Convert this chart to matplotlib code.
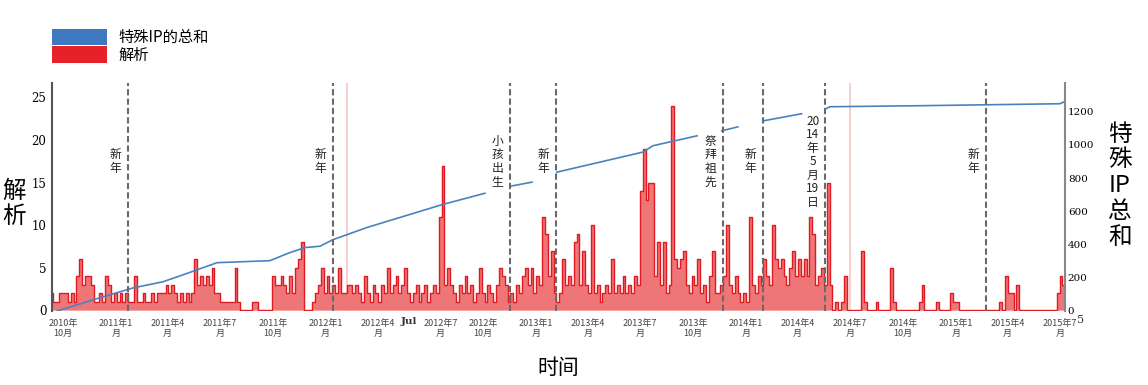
import numpy as np
import pandas as pd
import matplotlib
matplotlib.use('Agg')
import matplotlib.pyplot as plt
from matplotlib.patches import Patch
from matplotlib.transforms import ScaledTranslation

plt.rcParams['font.family'] = ['Noto Sans CJK SC', 'DejaVu Sans']

# 解析 (left axis): one value every 5 days from red_start
red_start = '2010-09-12'
red_vals = [2, 1, 1, 2, 2, 2, 1, 2, 1, 4,
            6, 3, 4, 4, 3, 1, 1, 2, 1, 4,
            3, 1, 2, 1, 2, 1, 2, 1, 1, 4,
            1, 1, 2, 1, 1, 2, 1, 2, 2, 2,
            3, 2, 3, 2, 1, 2, 1, 2, 1, 2,
            6, 3, 4, 3, 4, 3, 5, 2, 2, 1,
            1, 1, 1, 1, 5, 1, 0, 0, 0, 0,
            1, 1, 0, 0, 0, 0, 0, 4, 3, 3,
            4, 3, 2, 4, 2, 5, 6, 8, 0, 0,
            0, 1, 2, 3, 5, 2, 4, 2, 3, 2,
            5, 2, 2, 3, 3, 2, 3, 2, 1, 4,
            2, 1, 3, 2, 1, 3, 2, 5, 2, 3,
            4, 2, 3, 5, 2, 1, 2, 3, 1, 2,
            3, 1, 2, 3, 2, 11, 17, 3, 5, 3,
            2, 1, 3, 2, 4, 2, 3, 1, 2, 5,
            2, 1, 3, 2, 1, 3, 5, 4, 3, 1,
            2, 1, 3, 2, 4, 5, 3, 5, 2, 4,
            3, 11, 9, 4, 7, 2, 1, 2, 6, 3,
            4, 3, 8, 9, 3, 7, 3, 2, 10, 2,
            3, 1, 2, 3, 2, 6, 2, 3, 2, 4,
            2, 3, 2, 4, 3, 14, 19, 13, 15, 15,
            4, 8, 3, 8, 2, 3, 24, 6, 5, 6,
            7, 3, 2, 4, 3, 6, 2, 3, 1, 4,
            7, 2, 2, 3, 4, 10, 3, 2, 4, 2,
            1, 2, 1, 11, 3, 2, 4, 3, 6, 4,
            3, 10, 6, 5, 6, 4, 3, 5, 7, 4,
            6, 4, 6, 4, 11, 9, 3, 4, 5, 3,
            15, 3, 0, 1, 0, 1, 4, 0, 0, 0,
            0, 0, 7, 1, 0, 0, 0, 1, 0, 0,
            0, 0, 5, 1, 0, 0, 0, 0, 0, 0,
            0, 0, 1, 3, 0, 0, 0, 0, 1, 0,
            0, 0, 0, 2, 1, 1, 0, 0, 0, 0,
            0, 0, 0, 0, 0, 0, 0, 0, 0, 0,
            1, 0, 4, 2, 2, 0, 3, 0, 0, 0,
            0, 0, 0, 0, 0, 0, 0, 0, 0, 0,
            2, 4, 3]

# 特殊IP的总和 (right axis), nan = break in the line
blue_dates = ['2010-09-21', '2010-11-25', '2011-01-31', '2011-03-24', '2011-04-28',
              '2011-06-26', '2011-09-26', '2011-10-31', '2011-11-26', '2011-12-22',
              '2012-01-14', '2012-03-13', '2012-05-09', '2012-07-23', '2012-10-04',
              '2012-10-25', '2012-11-18', '2012-12-25', '2013-01-15', '2013-02-06',
              '2013-07-06', '2013-07-23', '2013-10-08', '2013-11-01', '2013-11-20',
              '2013-12-18', '2014-01-10', '2014-01-31', '2014-04-08', '2014-05-01',
              '2014-05-20', '2014-05-27', '2014-10-25', '2015-07-01', '2015-07-10']
blue_vals = [0, 70, 139, 176, 218,
             291, 303, 352, 382, 390,
             430, 503, 563, 642, 709,
             np.nan, 752, 776, np.nan, 836,
             957, 995, 1055, np.nan, 1085,
             1109, np.nan, 1145, 1188, np.nan,
             1218, 1230, 1236, 1248, 1262]

event_dates = ['2011-01-22', '2012-01-14', '2012-11-17', '2013-02-05',
               '2013-11-22', '2014-01-31', '2014-05-19', '2015-02-22']
event_labels = ['新\n年', '新\n年', '小\n孩\n出\n生', '新\n年',
                '祭\n拜\n祖\n先', '新\n年', '20\n14\n年\n5\n月\n19\n日', '新\n年']
faint_dates = ['2012-02-07', '2014-07-01']

tick_dates = pd.date_range('2010-10-01', '2015-07-01', freq='QS-JAN')
tick_labels = ['2010年\n10月', '2011年1\n月', '2011年4\n月', '2011年7\n月', '2011年\n10月',
               '2012年1\n月', '2012年4\n月', '2012年7\n月', '2012年\n10月',
               '2013年1\n月', '2013年4\n月', '2013年7\n月', '2013年\n10月',
               '2014年1\n月', '2014年4\n月', '2014年7\n月', '2014年\n10月',
               '2015年1\n月', '2015年4\n月', '2015年7\n月']

fig = plt.figure(figsize=(11.48, 3.85), dpi=100)
ax = fig.add_axes([52 / 1148, 74 / 385, 1013 / 1148, 228 / 385])
ax2 = ax.twinx()

red_dates = pd.to_datetime(red_start) + pd.to_timedelta(np.arange(len(red_vals)) * 5, unit='D')
ax.fill_between(red_dates, red_vals, step='mid', color='#ee7676', lw=0)
ax.step(red_dates, red_vals, where='mid', color='#df1a22', lw=1.0)

for d in faint_dates:
    ax.axvline(pd.Timestamp(d), color='#f7c6c6', lw=1.2, zorder=0)

ax2.plot(pd.to_datetime(blue_dates), blue_vals, color='#4a82bd', lw=1.2)

for d, lab in zip(event_dates, event_labels):
    ax2.axvline(pd.Timestamp(d), color='#6a6a6a', lw=1.5, ls=(0, (3, 1.5)))
    ax2.annotate(lab, xy=(pd.Timestamp(d), 0.655), xycoords=('data', 'axes fraction'),
                 xytext=(-9, 0), textcoords='offset points', ha='center', va='center',
                 fontsize=8.5, linespacing=1.05, color='#222')

ax.set_xlim(pd.Timestamp('2010-09-12'), pd.Timestamp('2015-07-10'))
ax.set_ylim(-0.1, 26.7)
ax2.set_ylim(0, 1373)

ax.set_xticks(tick_dates)
ax.set_xticklabels(tick_labels, fontsize=6.5, color='#444', linespacing=1.1)
ax.tick_params(axis='x', length=0, pad=6)
# the 2012年7月 label sits a little right of its month in the reference
jul_lbl = ax.get_xticklabels()[7]
jul_lbl.set_transform(jul_lbl.get_transform() + ScaledTranslation(0.1, 0, fig.dpi_scale_trans))
ax.set_yticks([0, 5, 10, 15, 20, 25])
ax.tick_params(axis='y', length=0, pad=4, labelsize=8.5)
for t in ax.get_yticklabels():
    t.set_family('DejaVu Serif')
ax2.set_yticks([0, 200, 400, 600, 800, 1000, 1200])
ax2.tick_params(axis='y', length=0, pad=2, labelsize=7.5)
for t in ax2.get_yticklabels():
    t.set_family('DejaVu Serif')

for a in (ax, ax2):
    a.spines['top'].set_visible(False)
    a.spines['bottom'].set_visible(False)
ax.spines['right'].set_visible(False)
ax.spines['left'].set_color('#555')
ax.spines['left'].set_linewidth(1.5)
ax2.spines['left'].set_visible(False)
ax2.spines['right'].set_color('#888')
ax2.spines['right'].set_linewidth(1.5)

ax.set_ylabel('解\n析', rotation=0, fontsize=17, linespacing=1.15, labelpad=18, va='center')
ax.yaxis.set_label_coords(-0.037, 0.47)
ax2.set_ylabel('特\n殊\nIP\n总\n和', rotation=0, fontsize=17, linespacing=1.15, va='center')
ax2.yaxis.set_label_coords(1.054, 0.55)
ax.set_xlabel('时间', fontsize=15, labelpad=14)

ax.text(0.352, -0.045, 'Jul', transform=ax.transAxes, fontsize=7.5, fontweight='bold',
        family='DejaVu Serif', ha='center', va='center', color='#333')
ax.text(1.015, -0.04, '5', transform=ax.transAxes, fontsize=8, family='DejaVu Serif',
        ha='center', va='center', color='#333')

handles = [Patch(facecolor='#3d78c0', edgecolor='none'), Patch(facecolor='#e5222a', edgecolor='none')]
fig.legend(handles, ['特殊IP的总和', '解析'], loc='upper left',
           bbox_to_anchor=(52 / 1148, 1 - 29 / 385), frameon=False, fontsize=11,
           handlelength=3.6, handleheight=1.27, handletextpad=0.75, labelspacing=0,
           borderpad=0, borderaxespad=0)

fig.savefig('out.png', dpi=100)
